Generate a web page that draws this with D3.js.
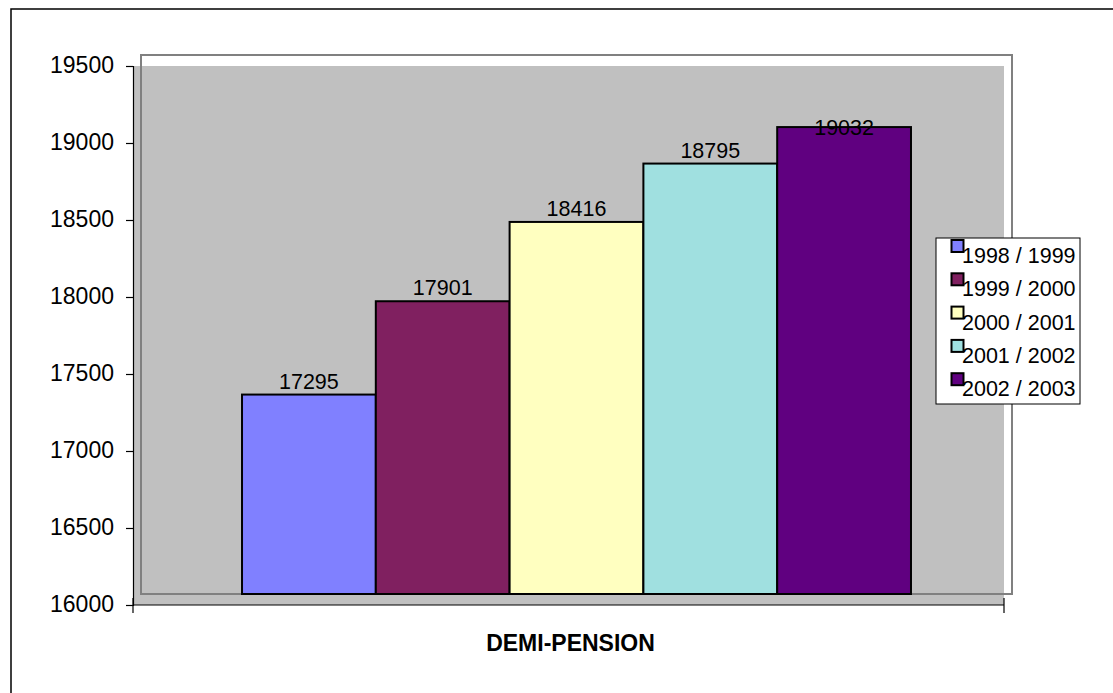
<!DOCTYPE html>
<html>
<head>
<meta charset="utf-8">
<script src="https://cdn.jsdelivr.net/npm/d3@7"></script>
<style>
  html, body { margin: 0; padding: 0; background: #fff; }
  svg { display: block; font-family: "Liberation Sans", Arial, sans-serif; }
</style>
</head>
<body>
<svg id="chart" width="1113" height="693"></svg>
<script>
// ---- data ----
const categories = ["DEMI-PENSION"];
const seriesNames = ["1998 / 1999", "1999 / 2000", "2000 / 2001", "2001 / 2002", "2002 / 2003"];
const seriesValues = [17295, 17901, 18416, 18795, 19032];
const seriesColors = ["#8080FF", "#802060", "#FFFFC0", "#A0E0E0", "#600080"];
const yTicks = [16000, 16500, 17000, 17500, 18000, 18500, 19000, 19500];

// ---- layout ----
const W = 1113, H = 693;
const plot = { left: 133, right: 1004, top: 66, bottom: 605 };
const depth = { dx: 8, dy: -11 };
const svg = d3.select("#chart");

// outer frame (extends beyond the picture on right/bottom)
svg.append("rect").attr("x", 11).attr("y", 9).attr("width", 1140).attr("height", 720)
  .attr("fill", "#fff").attr("stroke", "#000").attr("stroke-width", 1.5);

const y = d3.scaleLinear().domain([16000, 19500]).range([plot.bottom, plot.top]);
const x0 = d3.scaleBand().domain(categories).range([plot.left, plot.right])
  .paddingInner(0).paddingOuter(0.151);
const x1 = d3.scaleBand().domain(seriesNames).range([0, x0.bandwidth()]).padding(0);

// gray plot area (front plane + side + floor)
svg.append("rect").attr("x", plot.left).attr("y", plot.top)
  .attr("width", plot.right - plot.left).attr("height", plot.bottom - plot.top)
  .attr("fill", "#C0C0C0");

// back wall border
svg.append("rect")
  .attr("x", plot.left + depth.dx).attr("y", plot.top + depth.dy)
  .attr("width", plot.right - plot.left).attr("height", plot.bottom - plot.top)
  .attr("fill", "none").attr("stroke", "#808080").attr("stroke-width", 2);

// bars (drawn on back wall)
const g = svg.append("g").attr("transform", `translate(${depth.dx},${depth.dy})`);
const data = seriesNames.map((s, i) => ({ cat: categories[0], name: s, value: seriesValues[i], color: seriesColors[i] }));
g.selectAll("rect.bar").data(data).join("rect").attr("class", "bar")
  .attr("x", d => x0(d.cat) + x1(d.name))
  .attr("y", d => y(d.value))
  .attr("width", x1.bandwidth())
  .attr("height", d => y.range()[0] - y(d.value))
  .attr("fill", d => d.color)
  .attr("stroke", "#000").attr("stroke-width", 2);

// data labels
const minLabelBaseline = 135;
g.selectAll("text.lbl").data(data).join("text").attr("class", "lbl")
  .attr("x", d => x0(d.cat) + x1(d.name) + x1.bandwidth() / 2)
  .attr("y", d => Math.max(y(d.value) - 6, minLabelBaseline - depth.dy))
  .attr("text-anchor", "middle").attr("font-size", 21.5).attr("fill", "#000")
  .text(d => d.value);

// y axis
const yAxis = svg.append("g").attr("transform", `translate(${plot.left},0)`)
  .call(d3.axisLeft(y).tickValues(yTicks).tickSize(7).tickPadding(12).tickFormat(d3.format("d")));
yAxis.select(".domain").attr("stroke", "#000").attr("stroke-width", 1.2);
yAxis.selectAll(".tick line").attr("stroke", "#000").attr("stroke-width", 1.2);
yAxis.selectAll(".tick text").attr("font-size", 23).attr("fill", "#000").attr("dy", "0.28em")
  .attr("font-family", "Liberation Sans, Arial, sans-serif");

// x axis
const xAxisG = svg.append("g");
xAxisG.append("line").attr("x1", plot.left).attr("x2", plot.right)
  .attr("y1", plot.bottom).attr("y2", plot.bottom).attr("stroke", "#000").attr("stroke-width", 1.2);
xAxisG.selectAll("line.xt").data([x0.range()[0], x0.range()[1]]).join("line").attr("class", "xt")
  .attr("x1", d => d).attr("x2", d => d).attr("y1", plot.bottom - 7).attr("y2", plot.bottom + 8)
  .attr("stroke", "#000").attr("stroke-width", 1.2);
xAxisG.selectAll("text.cat").data(categories).join("text").attr("class", "cat")
  .attr("x", d => x0(d) + x0.bandwidth() / 2 + depth.dx - 6)
  .attr("y", 651).attr("text-anchor", "middle")
  .attr("font-size", 23).attr("font-weight", "bold").attr("fill", "#000")
  .text(d => d);

// legend
const legend = svg.append("g").attr("transform", "translate(936,238)");
legend.append("rect").attr("width", 144).attr("height", 166)
  .attr("fill", "#fff").attr("stroke", "#000").attr("stroke-width", 1);
const li = legend.selectAll("g.item").data(data).join("g").attr("class", "item")
  .attr("transform", (d, i) => `translate(0,${i * 33.3})`);
li.append("rect").attr("x", 15.5).attr("y", 2).attr("width", 12).attr("height", 12)
  .attr("fill", d => d.color).attr("stroke", "#000").attr("stroke-width", 2);
li.append("text").attr("x", 26).attr("y", 25).attr("font-size", 21.5).attr("fill", "#000")
  .text(d => d.name);
</script>
</body>
</html>
